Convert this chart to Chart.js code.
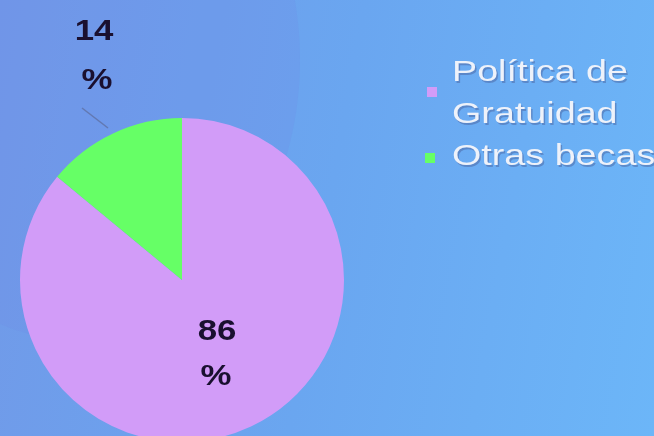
<!DOCTYPE html>
<html>
<head>
<meta charset="utf-8">
<script src="https://cdn.jsdelivr.net/npm/chart.js@4"></script>
<style>
  html, body { margin: 0; padding: 0; overflow: hidden; }
  #wrap {
    width: 654px; height: 436px; overflow: hidden; position: relative;
    background: linear-gradient(100deg, #7199e8 0%, #6aa6f0 50%, #6cb6f8 100%);
  }
  #glow {
    position: absolute; left: -150px; top: -220px; width: 450px; height: 560px;
    border-radius: 50%; background: rgba(110, 140, 230, 0.25);
  }
  #chartBox { position: absolute; left: 0; top: 0; width: 654px; height: 460px; }
</style>
</head>
<body>
<div id="wrap">
  <div id="glow"></div>
  <div id="chartBox"><canvas id="pie"></canvas></div>
</div>
<script>
// Data
const categories = [['Política de', 'Gratuidad'], ['Otras becas']];
const values = [86, 14];
const sliceColors = ['#d29cf8', '#66ff66'];

// text is stretched sideways in the original slide
function wideText(ctx, text, x, y, sx) {
    ctx.save();
    ctx.translate(x, y);
    ctx.scale(sx, 1);
    ctx.fillText(text, 0, 0);
    ctx.restore();
}

// Draws the percentage labels and the right-hand legend
const labelPlugin = {
    id: 'labelPlugin',
    afterDraw(chart) {
        const ctx = chart.ctx;
        const arcs = chart.getDatasetMeta(0).data;
        ctx.save();
        ctx.font = 'bold 29px "Liberation Sans", Arial, sans-serif';
        ctx.fillStyle = '#1a1030';
        ctx.textAlign = 'center';
        ctx.textBaseline = 'middle';

        // 86 % inside the pink slice
        const a0 = arcs[0];
        wideText(ctx, String(values[0]), a0.x + 35, a0.y + 52, 1.2);
        wideText(ctx, '%', a0.x + 34, a0.y + 97, 1.2);

        // 14 % outside the green slice with a leader line
        const a1 = arcs[1];
        wideText(ctx, String(values[1]), a1.x - 88, a1.y - 248, 1.2);
        wideText(ctx, '%', a1.x - 85, a1.y - 199, 1.2);
        ctx.strokeStyle = 'rgba(90, 100, 140, 0.6)';
        ctx.lineWidth = 1.5;
        ctx.beginPath();
        ctx.moveTo(a1.x - 100, a1.y - 172);
        ctx.lineTo(a1.x - 74, a1.y - 152);
        ctx.stroke();

        // legend
        ctx.font = '29px "Liberation Sans", Arial, sans-serif';
        ctx.textAlign = 'left';
        let y = 73;
        categories.forEach((lines, i) => {
            const boxY = lines.length > 1 ? 92 : y + 1;
            ctx.fillStyle = sliceColors[i];
            ctx.fillRect(i === 0 ? 427 : 425, boxY - 5, 10, 10);
            lines.forEach(line => {
                ctx.fillStyle = 'rgba(70, 90, 150, 0.45)';
                wideText(ctx, line, 453.5, y + 1.5, 1.3);
                ctx.fillStyle = '#eef2fa';
                wideText(ctx, line, 452, y, 1.3);
                y += 42;
            });
        });
        ctx.restore();
    }
};

new Chart(document.getElementById('pie'), {
    type: 'pie',
    data: {
        labels: categories.map(l => l.join(' ')),
        datasets: [{
            data: values,
            backgroundColor: sliceColors,
            borderWidth: 0
        }]
    },
    options: {
        responsive: true,
        maintainAspectRatio: false,
        animation: false,
        layout: { padding: { left: 20, right: 310, top: 118, bottom: 18 } },
        plugins: {
            legend: { display: false },
            tooltip: { enabled: false }
        }
    },
    plugins: [labelPlugin]
});
</script>
</body>
</html>
